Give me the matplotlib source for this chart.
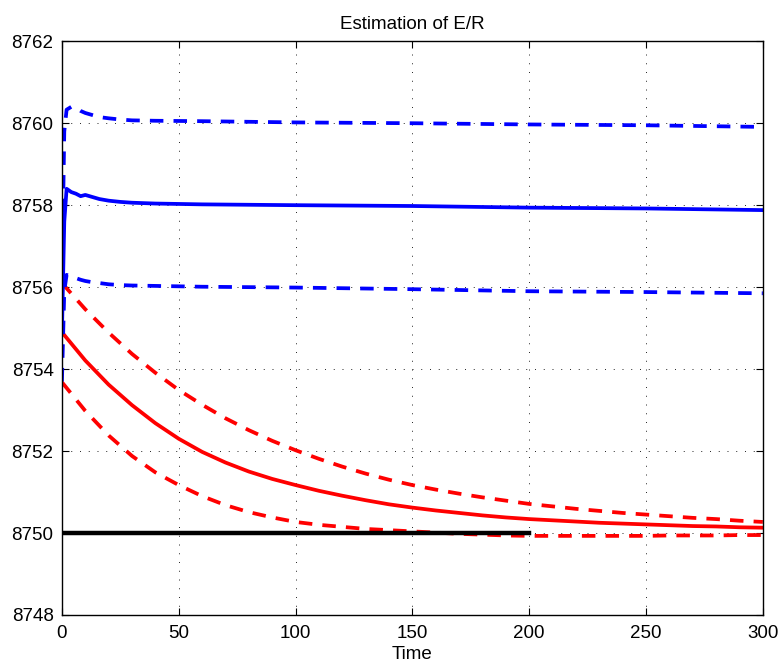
import numpy as np
import matplotlib
matplotlib.use("Agg")
import matplotlib.pyplot as plt

plt.rcParams['font.family'] = ['Liberation Sans', 'DejaVu Sans']

# reference value of E/R
er_true = 8750.0
t_true = [0, 200]

# red curves: offsets from 8750, sampled every 10 time units
t_red = np.arange(0, 301, 10)
red_mean = [4.90, 4.21, 3.62, 3.12, 2.68, 2.30, 1.98, 1.72, 1.50, 1.32,
            1.17, 1.03, 0.91, 0.80, 0.70, 0.62, 0.55, 0.49, 0.43, 0.38,
            0.34, 0.31, 0.28, 0.25, 0.23, 0.21, 0.19, 0.17, 0.16, 0.14, 0.13]
red_upper = [6.10, 5.46, 4.89, 4.37, 3.91, 3.49, 3.13, 2.80, 2.51, 2.25,
             2.02, 1.81, 1.62, 1.45, 1.30, 1.17, 1.06, 0.96, 0.87, 0.79,
             0.71, 0.65, 0.59, 0.54, 0.49, 0.45, 0.41, 0.37, 0.34, 0.30, 0.27]
red_lower = [3.68, 2.98, 2.38, 1.88, 1.48, 1.17, 0.90, 0.68, 0.51, 0.38,
             0.27, 0.20, 0.15, 0.10, 0.07, 0.04, 0.01, -0.02, -0.04, -0.06,
             -0.07, -0.07, -0.07, -0.07, -0.07, -0.07, -0.06, -0.06, -0.06, -0.05, -0.05]

# blue curves, denser sampling near the start
t_blue = [0, 1, 2, 4, 6, 8, 10, 13, 16, 20, 25, 30, 40, 60, 100, 150, 200, 250, 300]
blue_mean = [8754.90, 8757.60, 8758.40, 8758.32, 8758.28, 8758.22, 8758.25, 8758.20,
             8758.15, 8758.11, 8758.08, 8758.06, 8758.04, 8758.02, 8758.00, 8757.98,
             8757.94, 8757.92, 8757.88]
blue_upper = [8756.10, 8759.80, 8760.33, 8760.40, 8760.38, 8760.30, 8760.25, 8760.20,
              8760.15, 8760.12, 8760.09, 8760.07, 8760.06, 8760.05, 8760.02, 8760.00,
              8759.97, 8759.95, 8759.91]
blue_lower = [8753.70, 8755.90, 8756.30, 8756.25, 8756.22, 8756.18, 8756.15, 8756.12,
              8756.10, 8756.07, 8756.05, 8756.04, 8756.03, 8756.01, 8755.99, 8755.95,
              8755.90, 8755.88, 8755.85]

fig = plt.figure(figsize=(7.84, 6.71), dpi=100)
ax = fig.add_axes([0.079, 0.0835, 0.894, 0.855])

lw = 2.7
dash = (0, (3.6, 2.7))

ax.plot(t_red, er_true + np.array(red_mean), color='red', lw=lw)
ax.plot(t_red, er_true + np.array(red_upper), color='red', lw=lw, linestyle=dash)
ax.plot(t_red, er_true + np.array(red_lower), color='red', lw=lw, linestyle=dash)

ax.plot(t_blue, blue_mean, color='blue', lw=lw)
ax.plot(t_blue, blue_upper, color='blue', lw=lw, linestyle=dash)
ax.plot(t_blue, blue_lower, color='blue', lw=lw, linestyle=dash)

ax.plot(t_true, [er_true, er_true], color='black', lw=3.2)

ax.set_xlim(0, 300)
ax.set_ylim(8748, 8762)
ax.set_xticks(np.arange(0, 301, 50))
ax.set_yticks(np.arange(8748, 8763, 2))
ax.yaxis.set_major_formatter(matplotlib.ticker.FormatStrFormatter('%d'))

ax.grid(True, color='#222222', linestyle=(0, (1, 8)), lw=0.7)
ax.tick_params(direction='in', length=5, width=0.8, top=True, right=True,
               labelsize=13.5)
ax.tick_params(axis='x', pad=7)
ax.tick_params(axis='y', pad=6)
for s in ax.spines.values():
    s.set_linewidth(1.0)

ax.set_title('Estimation of E/R', fontsize=13.5, pad=9)
ax.set_xlabel('Time', fontsize=13.5, labelpad=3)

fig.savefig('out.png', dpi=100)
